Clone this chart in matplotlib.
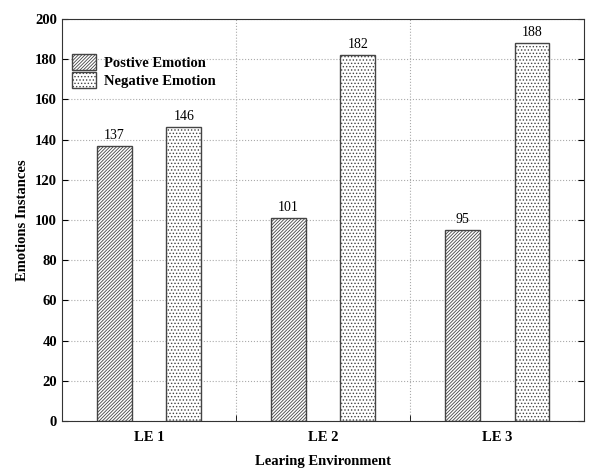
import numpy as np
import matplotlib.pyplot as plt
import matplotlib as mpl

plt.rcParams['font.family'] = ['Liberation Serif', 'DejaVu Serif']
mpl.rcParams['hatch.linewidth'] = 0.6

# Daten
umgebungen = ['LE 1', 'LE 2', 'LE 3']
positiv = [137, 101, 95]
negativ = [146, 182, 188]

x = np.arange(len(umgebungen))
breite = 0.2

fig = plt.figure(figsize=(5.89, 4.71), dpi=100)
ax = fig.add_axes([0.105, 0.106, 0.887, 0.854])

b1 = ax.bar(x - 0.2, positiv, breite, color='white', edgecolor='#444444',
            hatch='//////////', linewidth=1.0, label='Postive Emotion')
b2 = ax.bar(x + 0.2, negativ, breite, color='white', edgecolor='#444444',
            hatch='.....', linewidth=1.0, label='Negative Emotion')

for rects in (b1, b2):
    for r in rects:
        ax.text(r.get_x() + r.get_width() / 2, r.get_height() + 2,
                f"{int(r.get_height())}", ha='center', va='bottom', fontsize=10)

ax.set_xlim(-0.5, 2.5)
ax.set_ylim(0, 200)
ax.set_yticks(np.arange(0, 201, 20))
ax.set_xticks(x)
ax.set_xticklabels(umgebungen, fontweight='bold', fontsize=10.5)
ax.set_xticks([0.5, 1.5], minor=True)
ax.tick_params(axis='x', which='major', length=0, pad=7)
ax.tick_params(axis='x', which='minor', direction='in', length=4)
ax.tick_params(axis='y', direction='in', right=True, length=4, labelsize=10.5)
for lab in ax.get_yticklabels():
    lab.set_fontweight('bold')

ax.grid(True, axis='y', linestyle=':', color='#aaaaaa', linewidth=0.8)
ax.grid(True, axis='x', which='minor', linestyle=':', color='#aaaaaa', linewidth=0.8)
ax.set_axisbelow(True)

for s in ax.spines.values():
    s.set_color('#333333')

ax.set_xlabel("Learing Environment", fontweight='bold', fontsize=10.5, labelpad=8)
ax.set_ylabel("Emotions Instances", fontweight='bold', fontsize=10.5)

ax.legend(loc='upper left', frameon=False, prop={'weight': 'bold', 'size': 10.5},
          bbox_to_anchor=(-0.005, 0.945), handlelength=1.6, handleheight=1.3,
          labelspacing=0.15, handletextpad=0.6)

plt.savefig("out.png", dpi=100)
